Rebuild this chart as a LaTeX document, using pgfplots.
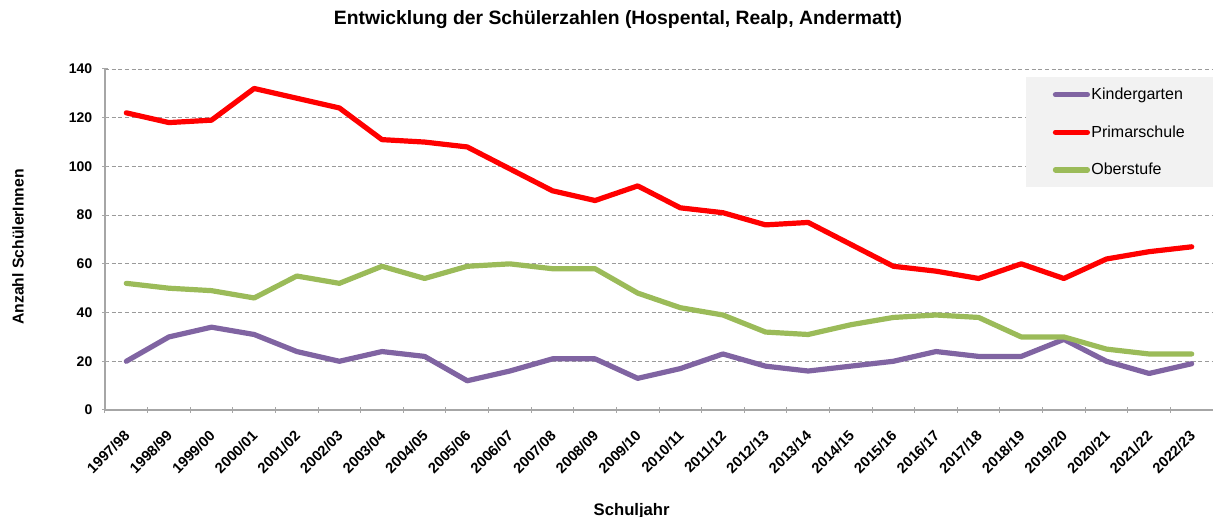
\documentclass[border=0pt]{standalone}
\usepackage{fontspec}
\setmainfont{Liberation Sans}
\usepackage{pgfplots}
\usepackage{pgfplotstable}
\pgfplotsset{compat=1.18}
\usetikzlibrary{calc}

\definecolor{kgcol}{HTML}{8064A2}
\definecolor{pscol}{HTML}{FF0000}
\definecolor{oscol}{HTML}{9BBB59}
\definecolor{gridcol}{HTML}{9A9A9A}
\definecolor{axcol}{HTML}{A6A6A6}

% idx = Schuljahr (0 = 1997/98 ... 25 = 2022/23)
\pgfplotstableread{
idx kg  ps  os
0   20  122 52
1   30  118 50
2   34  119 49
3   31  132 46
4   24  128 55
5   20  124 52
6   24  111 59
7   22  110 54
8   12  108 59
9   16  99  60
10  21  90  58
11  21  86  58
12  13  92  48
13  17  83  42
14  23  81  39
15  18  76  32
16  16  77  31
17  18  68  35
18  20  59  38
19  24  57  39
20  22  54  38
21  22  60  30
22  29  54  30
23  20  62  25
24  15  65  23
25  19  67  23
}\schueler

\begin{document}
\begin{tikzpicture}
\begin{axis}[
    name=main,
    at={(0,0)}, anchor=south west,
    scale only axis,
    width=831pt, height=255.75pt,
    xmin=-0.5, xmax=25.5,
    ymin=0, ymax=140,
    ytick={0,20,...,140},
    xtick={0,...,25},
    xticklabels={1997/98,1998/99,1999/00,2000/01,2001/02,2002/03,2003/04,2004/05,2005/06,2006/07,2007/08,2008/09,2009/10,2010/11,2011/12,2012/13,2013/14,2014/15,2015/16,2016/17,2017/18,2018/19,2019/20,2020/21,2021/22,2022/23},
    minor xtick={-0.5,0.5,...,25.5},
    major x tick style={draw=none},
    minor x tick style={draw=axcol, line width=0.75pt},
    major y tick style={draw=axcol, line width=0.75pt},
    tick align=outside,
    major tick length=4pt,
    minor tick length=4.5pt,
    axis lines=left,
    axis line style={-, draw=axcol, line width=0.9pt},
    ymajorgrids,
    grid style={draw=gridcol, line width=0.6pt, dash pattern=on 3pt off 2pt},
    /pgf/number format/assume math mode=true,
    yticklabel style={font=\fontsize{10.5}{12}\selectfont\bfseries, xshift=-4pt},
    xticklabel style={font=\fontsize{11}{13}\selectfont\bfseries, xshift=3pt, yshift=-13pt, rotate=45, anchor=east},
    legend style={at={(1,1)}, anchor=north east, yshift=-6pt,
        fill=black!5, draw=none, inner xsep=20pt, inner ysep=7pt,
        font=\fontsize{12}{14}\selectfont, row sep=16pt,
        nodes={inner sep=1pt, anchor=west}},
    legend cell align=left,
    legend image code/.code={\draw[#1] (0pt,0pt) -- (24pt,0pt);},
    every axis plot/.append style={line width=3.9pt, line join=round, line cap=round},
]
\addplot[kgcol] table[x=idx, y=kg] {\schueler};
\addlegendentry{Kindergarten}
\addplot[pscol] table[x=idx, y=ps] {\schueler};
\addlegendentry{Primarschule}
\addplot[oscol] table[x=idx, y=os] {\schueler};
\addlegendentry{Oberstufe}
\end{axis}

\node[font=\fontsize{14.5}{17}\selectfont\bfseries] at ($(main.north west)+(384.75pt,37pt)$) {Entwicklung der Schülerzahlen (Hospental, Realp, Andermatt)};
\node[font=\fontsize{11.8}{14}\selectfont\bfseries, rotate=90] at ($(main.west)+(-65.25pt,-5.6pt)$) {Anzahl SchülerInnen};
\node[font=\fontsize{12.5}{15}\selectfont\bfseries] at ($(main.south west)+(395pt,-76pt)$) {Schuljahr};

\pgfresetboundingbox
\path ($(main.south west)+(-78.75pt,-80.25pt)$) rectangle ($(main.north east)+(0pt,51.75pt)$);
\end{tikzpicture}
\end{document}
